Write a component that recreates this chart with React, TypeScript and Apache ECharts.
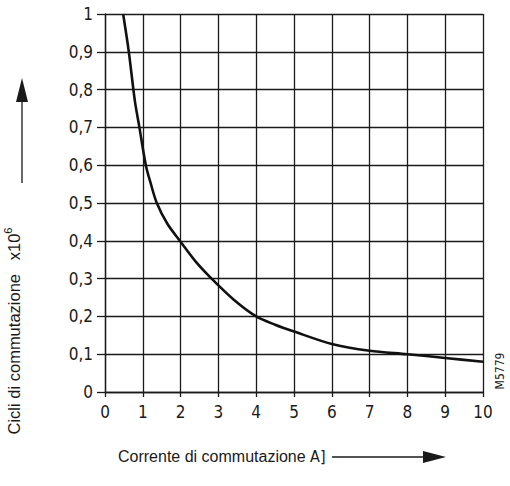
import React, { useEffect, useRef } from "react";
import * as echarts from "echarts";

const currentA = [0.48, 0.63, 0.79, 0.91, 1.08, 1.2, 1.37, 1.65, 1.98, 2.4, 2.82, 3.4, 4.0, 4.5, 5.0, 6.0, 7.0, 8.0, 9.0, 10.0];
const cyclesM = [1.0, 0.9, 0.77, 0.7, 0.6, 0.555, 0.5, 0.445, 0.4, 0.345, 0.3, 0.245, 0.2, 0.178, 0.16, 0.127, 0.109, 0.1, 0.09, 0.08];
const xTicks = [0, 1, 2, 3, 4, 5, 6, 7, 8, 9, 10];
const yTicks = ["0", "0,1", "0,2", "0,3", "0,4", "0,5", "0,6", "0,7", "0,8", "0,9", "1"];

const NARROW = "'DejaVu Sans Condensed', 'Liberation Sans Narrow', 'Liberation Sans', sans-serif";
const SANS = "'Liberation Sans', Arial, sans-serif";

export default function App() {
  const ref = useRef<HTMLDivElement>(null);
  useEffect(() => {
    if (!ref.current) return;
    const chart = echarts.init(ref.current, null, { renderer: "svg" });
    const ink = "#1a1a1a";
    chart.setOption({
      animation: false,
      backgroundColor: "#ffffff",
      grid: { left: 105, right: 27, top: 14, bottom: 94, containLabel: false },
      xAxis: {
        type: "value",
        min: 0,
        max: 10,
        interval: 1,
        axisLine: { show: true, lineStyle: { color: ink, width: 1.3 } },
        axisTick: { show: true, length: 5, lineStyle: { color: ink, width: 1.3 } },
        splitLine: { show: true, lineStyle: { color: ink, width: 1.3 } },
        axisLabel: {
          margin: 11,
          color: ink,
          fontFamily: NARROW,
          fontSize: 17,
          formatter: (v: number) => String(xTicks[Math.round(v)]),
        },
      },
      yAxis: {
        type: "value",
        min: 0,
        max: 1,
        interval: 0.1,
        axisLine: { show: true, lineStyle: { color: ink, width: 1.3 } },
        axisTick: { show: true, length: 8, lineStyle: { color: ink, width: 1.3 } },
        splitLine: { show: true, lineStyle: { color: ink, width: 1.3 } },
        axisLabel: {
          margin: 12,
          color: ink,
          fontFamily: NARROW,
          fontSize: 17,
          formatter: (v: number) => yTicks[Math.round(v * 10)],
        },
      },
      series: [
        {
          type: "line",
          data: currentA.map((x, i) => [x, cyclesM[i]]),
          smooth: 0.3,
          showSymbol: false,
          lineStyle: { color: "#111", width: 2.6 },
        },
      ],
      graphic: [
        {
          type: "text",
          x: 12,
          y: 331,
          rotation: Math.PI / 2,
          style: {
            text: "{a|Cicli di commutazione   x10}{s|6}",
            align: "center",
            verticalAlign: "middle",
            rich: {
              a: { fontFamily: SANS, fontSize: 16.5, fill: ink, lineHeight: 20, verticalAlign: "bottom" },
              s: { fontFamily: SANS, fontSize: 11, fill: ink, lineHeight: 20, verticalAlign: "top" },
            },
          },
        },
        {
          type: "line",
          shape: { x1: 22, y1: 100, x2: 22, y2: 183 },
          style: { stroke: ink, lineWidth: 1.3 },
        },
        {
          type: "polygon",
          shape: { points: [[22, 78], [16, 102], [28, 102]] },
          style: { fill: ink },
        },
        {
          type: "text",
          x: 118,
          y: 456,
          style: {
            text: "{a|Corrente di commutazione }{b|A]}",
            verticalAlign: "middle",
            rich: {
              a: { fontFamily: SANS, fontSize: 16, fill: ink },
              b: { fontFamily: NARROW, fontSize: 16, fill: ink },
            },
          },
        },
        {
          type: "line",
          shape: { x1: 332, y1: 457, x2: 430, y2: 457 },
          style: { stroke: ink, lineWidth: 1.3 },
        },
        {
          type: "polygon",
          shape: { points: [[446, 457], [423, 451], [423, 463]] },
          style: { fill: ink },
        },
        {
          type: "text",
          x: 500,
          y: 371,
          rotation: Math.PI / 2,
          style: {
            text: "M5779",
            align: "center",
            verticalAlign: "middle",
            fontFamily: NARROW,
            fontSize: 12,
            fill: ink,
          },
        },
      ],
    });
    return () => chart.dispose();
  }, []);
  return <div ref={ref} style={{ width: 510, height: 486, position: "absolute", left: 0, top: 0 }} />;
}
